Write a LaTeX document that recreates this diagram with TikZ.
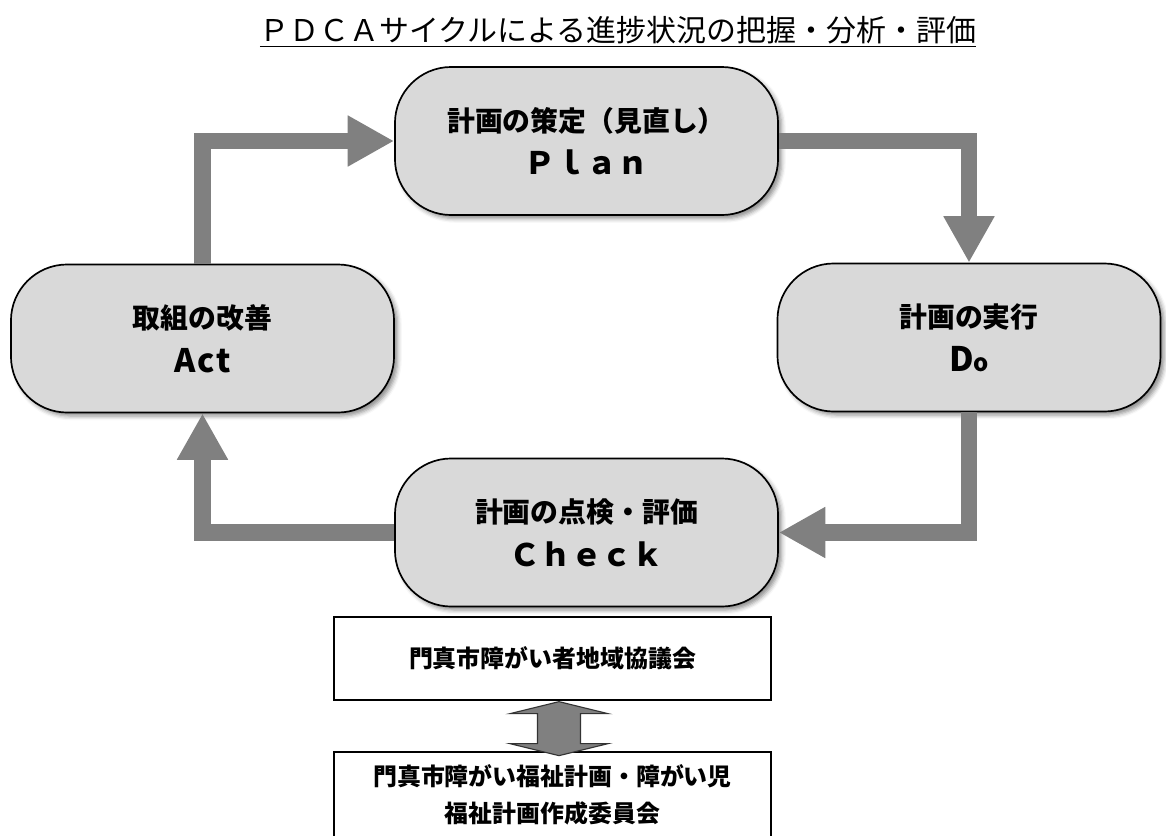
\documentclass[tikz,border=0pt]{standalone}
\usepackage{fontspec}
\setmainfont{Noto Sans CJK JP}
\usetikzlibrary{calc,arrows.meta,shadows.blur}

\tikzset{
  pdca/.style={draw=black, line width=1.2pt, fill=gray!30, rounded corners=40pt,
    minimum width=9.575cm, minimum height=3.7cm, align=center,
    font=\bfseries\fontsize{19.8pt}{31pt}\selectfont,
    blur shadow={shadow xshift=2.5pt, shadow yshift=-2.5pt, shadow blur radius=3pt, shadow opacity=45}},
  kaigi/.style={draw=black, line width=0.9pt, fill=white, minimum width=10.925cm,
    align=center, font=\bfseries\fontsize{17pt}{26pt}\selectfont},
  pdcaflow/.style={draw=gray, line width=12pt, -{Triangle[length=33pt,width=34pt]}},
  dblarrow/.style={draw=black!80, fill=gray, line width=0.8pt}
}
\newcommand{\pdcaword}[1]{{\fontsize{22pt}{31pt}\selectfont #1}}

\begin{document}
\begin{tikzpicture}[x=0.025cm,y=-0.025cm]
    \useasboundingbox (0,0) rectangle (1166,836);
    \node (title) at (618,32) {\fontsize{21.3pt}{26pt}\selectfont\underline{ＰＤＣＡサイクルによる進捗状況の把握・分析・評価}};

    \node [pdca] (plan) at (586.5,141) {計画の策定（見直し）\\\pdcaword{Ｐｌａｎ}};
    \node [pdca] (do) at (969,337.5) {計画の実行\\{\fontsize{24pt}{31pt}\selectfont D{\fontsize{17pt}{31pt}\selectfont o}}};
    \node [pdca] (check) at (586.5,532.5) {計画の点検・評価\\\pdcaword{Ｃｈｅｃｋ}};
    \node [pdca] (act) at (202.5,338.5) {取組の改善\\{\fontsize{23pt}{31pt}\selectfont\addfontfeature{LetterSpace=6}Act}};

    \draw [pdcaflow] (act.north) |- (plan.west);
    \draw [pdcaflow] (plan.east) -| (do.north);
    \draw [pdcaflow] (do.south) |- (check.east);
    \draw [pdcaflow] (check.west) -| (act.south);

    \node [kaigi, minimum height=2.075cm] (kyogi) at (552.5,658.5) {門真市障がい者地域協議会};
    \node [kaigi, minimum height=2.15cm] (iinkai) at (552.5,795) {門真市障がい福祉計画・障がい児\\福祉計画作成委員会};

    % double arrow between the two councils
    \draw [dblarrow] ($(kyogi.south)+(6.5,1)$) -- ++(-49,12) -- ++(27.5,0) -- ++(0,30) -- ++(-27.5,0)
      -- ++(49,12) -- ++(49,-12) -- ++(-27.5,0) -- ++(0,-30) -- ++(27.5,0) -- cycle;
\end{tikzpicture}
\end{document}
